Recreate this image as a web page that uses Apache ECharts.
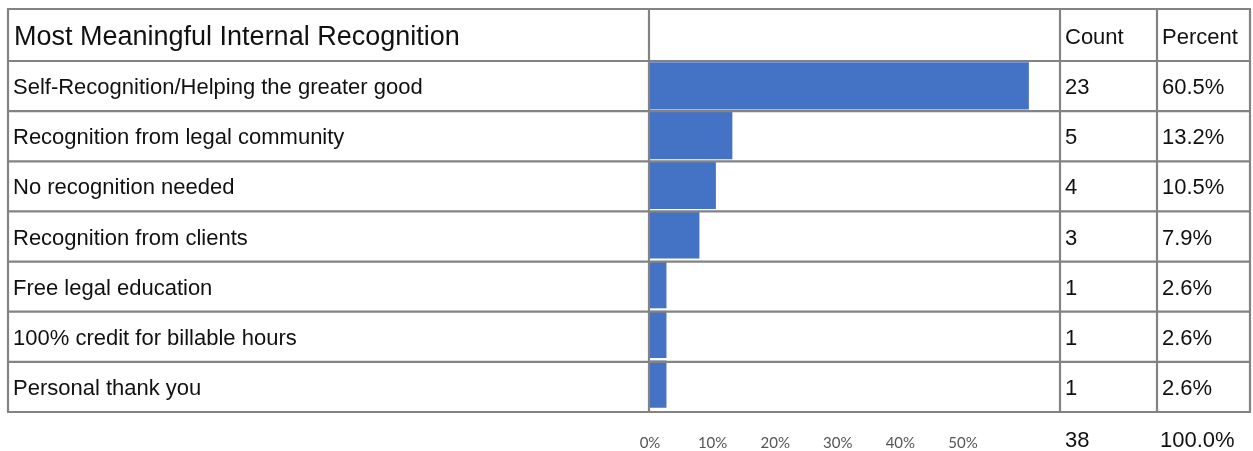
<!DOCTYPE html>
<html>
<head>
<meta charset="utf-8">
<style>html,body{margin:0;padding:0;background:#fff;}#c{width:1253px;height:451px;}</style>
<script src="https://cdn.jsdelivr.net/npm/echarts@6/dist/echarts.min.js"></script>
</head>
<body>
<div id="c"></div>
<script>
const title = 'Most Meaningful Internal Recognition';
const categories = [
  'Self-Recognition/Helping the greater good',
  'Recognition from legal community',
  'No recognition needed',
  'Recognition from clients',
  'Free legal education',
  '100% credit for billable hours',
  'Personal thank you'
];
const counts = [23, 5, 4, 3, 1, 1, 1];
const xTicks = [0, 10, 20, 30, 40, 50];

const total = counts.reduce((a, b) => a + b, 0);
const percents = counts.map(c => c / total * 100);
const percentLabels = percents.map(p => p.toFixed(1) + '%');

const L = {x0: 8, xBar: 650, xCount: 1060, xPct: 1157, x1: 1250, yTop: 9, yHead: 61, yBot: 412};
const lineColor = '#838383';
const font = "'Liberation Sans', Arial, sans-serif";
const txt = '#111';

const chart = echarts.init(document.getElementById('c'), null, {renderer: 'canvas'});

const graphics = [];
const rowH = (L.yBot - L.yHead) / categories.length;
const hs = [L.yTop];
for (let i = 0; i <= categories.length; i++) hs.push(L.yHead + i * rowH);
hs.forEach(y => graphics.push({type: 'line', shape: {x1: L.x0 - 1, y1: y, x2: L.x1 + 1, y2: y}, style: {stroke: lineColor, lineWidth: 2.2}, z: 100}));
[L.x0, L.xBar - 1, L.xCount, L.xPct, L.x1].forEach(x => graphics.push({type: 'line', shape: {x1: x, y1: L.yTop, x2: x, y2: L.yBot}, style: {stroke: lineColor, lineWidth: 2.2}, z: 100}));
const headY = (L.yTop + L.yHead) / 2 + 3;
graphics.push({type: 'text', x: 14, y: headY, style: {text: title, font: '27px ' + font, fill: txt, verticalAlign: 'middle'}});
graphics.push({type: 'text', x: 1065, y: headY, style: {text: 'Count', font: '22px ' + font, fill: txt, verticalAlign: 'middle'}});
graphics.push({type: 'text', x: 1162, y: headY, style: {text: 'Percent', font: '22px ' + font, fill: txt, verticalAlign: 'middle'}});
graphics.push({type: 'text', x: 1065, y: 441, style: {text: String(total), font: '22px ' + font, fill: txt, verticalAlign: 'middle'}});
graphics.push({type: 'text', x: 1160, y: 441, style: {text: (100).toFixed(1) + '%', font: '22px ' + font, fill: txt, verticalAlign: 'middle'}});

const rowLabel = {fontFamily: font, fontSize: 22, color: txt, align: 'left'};
const shift = 2;

chart.setOption({
  animation: false,
  backgroundColor: '#fff',
  grid: [
    {left: L.xBar, right: 1253 - L.xCount, top: L.yHead, bottom: 451 - L.yBot, containLabel: false},
    {left: L.xBar, right: 1253 - L.xCount, top: L.yHead + shift, bottom: 451 - L.yBot - shift, containLabel: false}
  ],
  xAxis: [{
    type: 'value', min: 0, max: 65.5, interval: 10,
    axisLine: {show: false}, axisTick: {show: false}, splitLine: {show: false},
    axisLabel: {
      margin: 27, color: '#555', fontFamily: 'Lato, "Open Sans", sans-serif', fontSize: 15,
      formatter: v => xTicks.indexOf(v) >= 0 ? v + '%' : '',
      showMaxLabel: false
    }
  }, {
    type: 'value', gridIndex: 1, min: 0, max: 65.5, show: false
  }],
  yAxis: [
    {type: 'category', inverse: true, data: categories, gridIndex: 0,
     axisLine: {show: false}, axisTick: {show: false}, splitLine: {show: false},
     axisLabel: {show: false}},
    {type: 'category', inverse: true, data: categories, gridIndex: 1,
     axisLine: {show: false}, axisTick: {show: false}, splitLine: {show: false},
     axisLabel: Object.assign({margin: L.xBar - 13}, rowLabel)},
    {type: 'category', inverse: true, gridIndex: 1, position: 'right', offset: 0, data: counts.map(String),
     axisLine: {show: false}, axisTick: {show: false},
     axisLabel: Object.assign({margin: 5}, rowLabel)},
    {type: 'category', inverse: true, gridIndex: 1, position: 'right', offset: L.xPct - L.xCount, data: percentLabels,
     axisLine: {show: false}, axisTick: {show: false},
     axisLabel: Object.assign({margin: 5}, rowLabel)}
  ],
  series: [{
    type: 'bar', data: percents, barCategoryGap: '5%', xAxisIndex: 0, yAxisIndex: 0,
    itemStyle: {color: '#4472C4'}, silent: true
  }],
  graphic: graphics
});
</script>
</body>
</html>
